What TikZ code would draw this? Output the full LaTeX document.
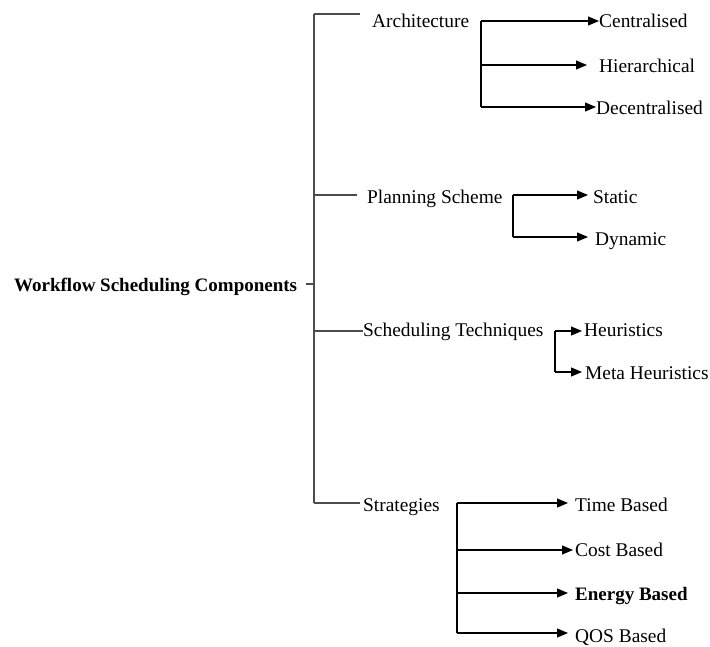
\documentclass[tikz,border=0pt]{standalone}
\usepackage{fontspec}
\setmainfont{Liberation Serif}
\usetikzlibrary{arrows.meta}
\begin{document}
\begin{tikzpicture}[x=1pt,y=-1pt,
  lbl/.style={anchor=base west,inner sep=0pt,font=\fontsize{19.4}{23}\selectfont},
  rootlbl/.style={lbl,font=\fontsize{19}{23}\selectfont\bfseries},
  link/.style={line width=1.1pt,draw=black!70},
  arr/.style={line width=1.1pt,draw=black,-{Triangle[length=11pt,width=9pt]}}]
\useasboundingbox (0,0) rectangle (710,646);

% labels
\node[rootlbl] (root) at (14,291) {Workflow Scheduling Components};
\node[lbl] (arch) at (372,27) {Architecture};
\node[lbl] (cent) at (599,27) {Centralised};
\node[lbl] (hier) at (599,72) {Hierarchical};
\node[lbl] (dece) at (596,114) {Decentralised};
\node[lbl] (plan) at (367,203) {Planning Scheme};
\node[lbl] (stat) at (593,203) {Static};
\node[lbl] (dyna) at (595,245) {Dynamic};
\node[lbl] (sched) at (363,336) {Scheduling Techniques};
\node[lbl] (heur) at (584,336) {Heuristics};
\node[lbl] (meta) at (585,379) {Meta Heuristics};
\node[lbl] (strat) at (363,511) {Strategies};
\node[lbl] (time) at (575,511) {Time Based};
\node[lbl] (cost) at (575,556) {Cost Based};
\node[rootlbl] (ener) at (575,600) {Energy Based};
\node[lbl] (qos) at (575,642) {QOS Based};

% main trunk and its branches
\coordinate (ttop) at (314,14);
\coordinate (tbot) at (314,503);
\coordinate (troot) at (314,284);
\coordinate (rtick) at (306,284);
\coordinate (archend) at (360,14);
\coordinate (tplan) at (314,195);
\coordinate (planend) at (357,195);
\coordinate (tsched) at (314,331);
\coordinate (schedend) at (363,331);
\coordinate (stratend) at (360,503);
\draw[link] (ttop) -- (tbot);
\draw[link] (rtick) -- (troot);
\draw[link] (ttop) -- (archend);
\draw[link] (tplan) -- (planend);
\draw[link] (tsched) -- (schedend);
\draw[link] (tbot) -- (stratend);

% Architecture
\coordinate (aj) at (481,21);
\coordinate (ajb) at (481,107);
\draw[link,draw=black] (aj) -- (ajb);
\draw[arr] (aj) -- (cent.west |- aj);
\draw[arr,shorten >=12pt] (aj |- 0,65) -- (hier.west |- 0,65);
\draw[arr] (ajb) -- (dece.west |- ajb);

% Planning Scheme
\coordinate (pj) at (513,195);
\coordinate (pjb) at (513,237);
\draw[link,draw=black] (pj) -- (pjb);
\draw[arr,shorten >=5pt] (pj) -- (stat.west |- pj);
\draw[arr,shorten >=7pt] (pjb) -- (dyna.west |- pjb);

% Scheduling Techniques
\coordinate (sj) at (555,331);
\coordinate (sjb) at (555,372);
\draw[link,draw=black] (sj) -- (sjb);
\draw[arr,shorten >=2pt] (sj) -- (heur.west |- sj);
\draw[arr,shorten >=3pt] (sjb) -- (meta.west |- sjb);

% Strategies
\coordinate (gj) at (457,503);
\coordinate (gjb) at (457,633);
\draw[link,draw=black] (gj) -- (gjb);
\draw[arr,shorten >=7pt] (gj) -- (time.west |- gj);
\draw[arr,shorten >=2pt] (gj |- 0,550) -- (cost.west |- 0,550);
\draw[arr,shorten >=7pt] (gj |- 0,593) -- (ener.west |- 0,593);
\draw[arr,shorten >=7pt] (gjb) -- (qos.west |- gjb);
\end{tikzpicture}
\end{document}
